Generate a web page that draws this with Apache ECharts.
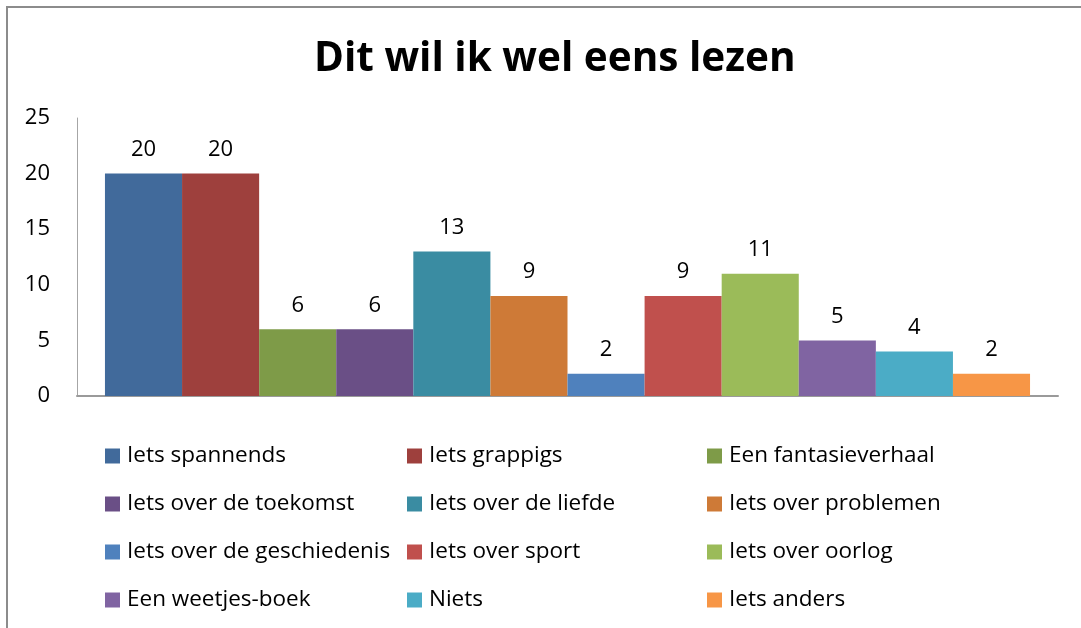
<!DOCTYPE html>
<html>
<head>
<meta charset="utf-8">
<script src="https://cdn.jsdelivr.net/npm/echarts@6/dist/echarts.min.js"></script>
<style>
  html, body { margin: 0; padding: 0; background: #fff; }
  #chart { width: 1081px; height: 628px; }
</style>
</head>
<body>
<div id="chart"></div>
<script>
// Reading preferences: one bar per answer, all in a single group
const titleText = 'Dit wil ik wel eens lezen';
const seriesNames = [
  'Iets spannends', 'Iets grappigs', 'Een fantasieverhaal',
  'Iets over de toekomst', 'Iets over de liefde', 'Iets over problemen',
  'Iets over de geschiedenis', 'Iets over sport', 'Iets over oorlog',
  'Een weetjes-boek', 'Niets', 'Iets anders'
];
const seriesValues = [20, 20, 6, 6, 13, 9, 2, 9, 11, 5, 4, 2];
const seriesColors = [
  '#416A9B', '#9E403D', '#7E9B48', '#6A4F86', '#3A8CA2', '#CE7A37',
  '#4F81BD', '#C0504D', '#9BBB59', '#8064A2', '#4BACC6', '#F79646'
];
const yTicks = { min: 0, max: 25, interval: 5 };

const fontFamily = '"Open Sans", "Noto Sans", sans-serif';

const series = seriesNames.map((name, i) => ({
  name,
  type: 'bar',
  data: [seriesValues[i]],
  barGap: '0%',
  barCategoryGap: '5.7%',
  itemStyle: { color: seriesColors[i] },
  label: {
    show: true,
    position: 'top',
    distance: 13,
    color: '#000',
    fontSize: 22,
    fontFamily
  }
}));

// Legend laid out in three columns of four entries
const legendColumns = [0, 1, 2].map(c => seriesNames.filter((_, i) => i % 3 === c));
const legendLefts = [105, 407, 707];
const legends = legendColumns.map((data, c) => ({
  data,
  orient: 'vertical',
  left: legendLefts[c],
  top: 444,
  icon: 'rect',
  itemWidth: 15,
  itemHeight: 15,
  itemGap: 24,
  padding: 0,
  textStyle: { fontSize: 22.5, color: '#000', fontFamily, lineHeight: 24, padding: [0, 0, 0, 2] },
  selectedMode: false
}));

const chart = echarts.init(document.getElementById('chart'), null, { renderer: 'canvas' });
chart.setOption({
  backgroundColor: '#fff',
  animation: false,
  title: {
    text: titleText,
    left: 309,
    top: 34,
    textStyle: { fontSize: 40.5, fontWeight: 'bold', color: '#000', fontFamily }
  },
  grid: { left: 77, right: 23, top: 118, bottom: 232 },
  xAxis: {
    type: 'category',
    data: [''],
    axisLine: { lineStyle: { color: '#9a9a9a', width: 2 } },
    axisTick: { show: false },
    axisLabel: { show: false }
  },
  yAxis: {
    type: 'value',
    min: yTicks.min,
    max: yTicks.max,
    interval: yTicks.interval,
    axisLine: { show: true, lineStyle: { color: '#a6a6a6', width: 1 } },
    axisTick: { show: false },
    splitLine: { show: false },
    axisLabel: { color: '#000', fontSize: 22, fontFamily, margin: 27 }
  },
  legend: legends,
  series,
  graphic: [
    { type: 'rect', shape: { x: 6, y: 6, width: 2, height: 622 }, style: { fill: '#8c8c8c' } },
    { type: 'rect', shape: { x: 6, y: 6, width: 1075, height: 2 }, style: { fill: '#8c8c8c' } }
  ]
});
</script>
</body>
</html>
